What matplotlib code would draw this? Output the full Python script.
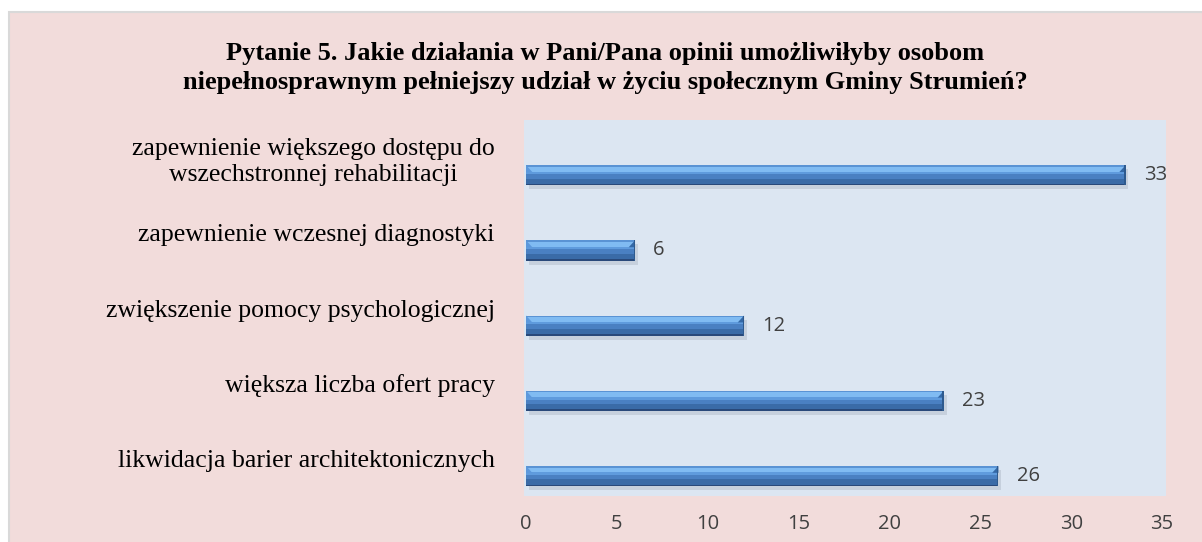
import matplotlib
matplotlib.use("Agg")
import matplotlib.pyplot as plt
from matplotlib.patches import Rectangle, Polygon
import numpy as np

categories = [
    "zapewnienie większego dostępu do\nwszechstronnej rehabilitacji",
    "zapewnienie wczesnej diagnostyki",
    "zwiększenie pomocy psychologicznej",
    "większa liczba ofert pracy",
    "likwidacja barier architektonicznych",
]
values = [33, 6, 12, 23, 26]
xticks = [0, 5, 10, 15, 20, 25, 30, 35]
title = ("Pytanie 5. Jakie działania w Pani/Pana opinii umożliwiłyby osobom\n"
         "niepełnosprawnym pełniejszy udział w życiu społecznym Gminy Strumień?")

W, H = 1202, 542
fig = plt.figure(figsize=(W / 100, H / 100), dpi=100)
fig.patch.set_facecolor("white")

# outer frame
frame = Rectangle((9 / W, -0.01), 1.0, 1 - 12 / H + 0.01, transform=fig.transFigure,
                  facecolor="#F2DCDB", edgecolor="#D9D9D9", linewidth=1.5, zorder=-10)
fig.patches.append(frame)

ax_l, ax_r, ax_t, ax_b = 524, 1166, 120, 496
ax = fig.add_axes([ax_l / W, 1 - ax_b / H, (ax_r - ax_l) / W, (ax_b - ax_t) / H])
ax.set_zorder(5)
ax.set_facecolor("#DCE6F2")
for s in ax.spines.values():
    s.set_visible(False)

pxu = 18.17
ax.set_xlim(-2 / pxu, 35 + 4 / pxu)
n = len(categories)
ax.set_ylim(n - 0.5, -0.5)

ypos = np.arange(n)
depth = 0.235          # 3-D depth shift of the bars below the category centre
bh = 0.27
yc = ypos + depth

# soft shadow
ax.barh(yc + bh * 0.20, values, height=bh, left=0.15, color="#8d99aa", alpha=0.28,
        zorder=1, linewidth=0)
# bands from top (negative offset) to bottom; (offset from centre, height, colour)
bands = [
    (-0.5, 1.0, "#3E72B2"),
    (-0.5, 0.08, "#5A93D4"),
    (-0.42, 0.24, "#80BBF2"),
    (-0.18, 0.12, "#5F9BDD"),
    (-0.06, 0.22, "#4A80C2"),
    (0.16, 0.26, "#3A6BA7"),
    (0.42, 0.08, "#29497A"),
]
for i, (o, hgt, c) in enumerate(bands):
    ax.barh(yc + bh * (o + hgt / 2), values, height=bh * hgt, color=c,
            linewidth=0, zorder=2 + i)

# bevelled ends
bev = 7 / pxu
for y, v in zip(yc, values):
    top = y - bh / 2
    ax.add_patch(Polygon([(v, top), (v - bev * 0.9, top + bh * 0.34), (v, top + bh * 0.34)],
                         closed=True, facecolor="#3468A6", linewidth=0, zorder=12))
    ax.add_patch(Polygon([(0, top), (bev * 0.9, top + bh * 0.34), (0, top + bh * 0.34)],
                         closed=True, facecolor="#5C98DC", linewidth=0, zorder=12))
    ax.add_patch(Rectangle((v - 0.08, top), 0.08, bh, facecolor="#2E5A8E",
                           linewidth=0, zorder=12))

for y, v in zip(yc, values):
    ax.annotate(str(v), xy=(v, y), xytext=(13, 0), textcoords="offset points",
                va="center", ha="left", fontsize=14.5, color="#404040",
                family="Open Sans")

ax.set_xticks(xticks)
ax.set_xticklabels([str(t) for t in xticks], fontsize=14.5, color="#404040", family="Open Sans")
ax.tick_params(axis="x", length=0, pad=13)
ax.set_yticks(ypos)
ax.set_yticklabels(categories, fontsize=18.5, family="Liberation Serif", color="black",
                   linespacing=1.22, multialignment="center")
ax.tick_params(axis="y", length=0, pad=21)

fig.text(0.5 * (9 + W) / W, 1 - 68 / H, title, ha="center", va="center",
         fontsize=19, fontweight="bold", family="Liberation Serif", linespacing=1.35)

fig.savefig("out.png", dpi=100, facecolor=fig.get_facecolor())
